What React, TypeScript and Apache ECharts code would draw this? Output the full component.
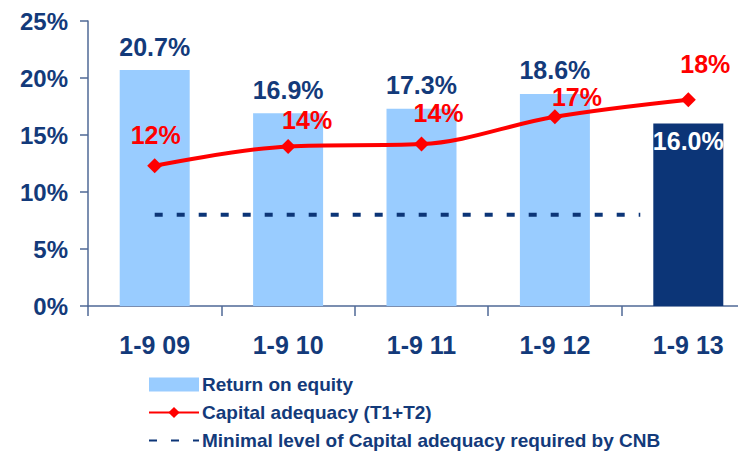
import React, { useEffect, useRef } from "react";
import * as echarts from "echarts";

const categories = ["1-9 09", "1-9 10", "1-9 11", "1-9 12", "1-9 13"];
const returnOnEquity = [20.7, 16.9, 17.3, 18.6, 16.0];
const capitalAdequacy = [12.3, 14.0, 14.2, 16.6, 18.1];
const capitalAdequacyLabels = ["12%", "14%", "14%", "17%", "18%"];
const minimalLevel = [[0.5, 8], [4.14, 8]];
const yTicks = { min: 0, max: 25, interval: 5 };
const seriesNames = [
  "Return on equity",
  "Capital adequacy (T1+T2)",
  "Minimal level of Capital adequacy required by CNB",
];

const NAVY = "#133a7a";
const DARK_BAR = "#0c3577";
const LIGHT_BAR = "#99ccff";
const RED = "#ff0000";
const AXIS = "#4f6896";
const FONT = "'Liberation Sans', Arial, sans-serif";

const lineLabelOffsets = [
  [1, -11],
  [19, -6],
  [17, -11],
  [22, 0],
  [17, -16],
];

export default function App() {
  const ref = useRef<HTMLDivElement>(null);
  useEffect(() => {
    if (!ref.current) return;
    const chart = echarts.init(ref.current, null, { renderer: "svg" });
    chart.setOption({
      animation: false,
      textStyle: { fontFamily: FONT },
      grid: { left: 88, top: 21, width: 667, height: 285, containLabel: false },
      xAxis: [
        {
          type: "category",
          data: categories,
          boundaryGap: true,
          axisLine: { lineStyle: { color: AXIS, width: 1.5 } },
          axisTick: { show: true, length: 10, alignWithLabel: false, lineStyle: { color: AXIS, width: 1.5 } },
          axisLabel: {
            color: NAVY,
            fontSize: 25,
            fontWeight: "bold",
            fontFamily: FONT,
            margin: 26,
          },
        },
        { type: "value", min: 0, max: 5, show: false },
      ],
      yAxis: {
        type: "value",
        min: yTicks.min,
        max: yTicks.max,
        interval: yTicks.interval,
        splitLine: { show: false },
        axisLine: { show: true, lineStyle: { color: AXIS, width: 1.5 } },
        axisTick: { show: true, length: 8, lineStyle: { color: AXIS, width: 1.5 } },
        axisLabel: {
          formatter: "{value}%",
          color: NAVY,
          fontSize: 24,
          fontWeight: "bold",
          fontFamily: FONT,
          margin: 20,
        },
      },
      legend: {
        orient: "vertical",
        left: 143,
        top: 370,
        height: 100,
        itemWidth: 50,
        itemHeight: 14,
        itemGap: 9,
        textStyle: { color: NAVY, fontSize: 19, fontWeight: "bold", fontFamily: FONT, padding: [0, 0, 0, -2] },
        data: [
          { name: seriesNames[0], icon: "rect" },
          { name: seriesNames[1] },
          { name: seriesNames[2], itemStyle: { color: "rgba(0,0,0,0)", borderWidth: 0 } },
        ],
      },
      series: [
        {
          name: seriesNames[0],
          type: "bar",
          barWidth: 70,
          itemStyle: { color: LIGHT_BAR },
          data: returnOnEquity.map((v, i) =>
            i === returnOnEquity.length - 1
              ? {
                  value: v,
                  itemStyle: { color: DARK_BAR },
                  label: { position: "insideTop", distance: 5, color: "#ffffff" },
                }
              : v
          ),
          label: {
            show: true,
            position: "top",
            distance: 11,
            formatter: (p: any) => p.value.toFixed(1) + "%",
            color: NAVY,
            fontSize: 25,
            fontWeight: "bold",
            fontFamily: FONT,
          },
        },
        {
          name: seriesNames[1],
          type: "line",
          smooth: 0.35,
          symbol: "diamond",
          symbolSize: 15,
          lineStyle: { color: RED, width: 4 },
          itemStyle: { color: RED },
          data: capitalAdequacy.map((v, i) => ({
            value: v,
            label: {
              offset: lineLabelOffsets[i],
            },
          })),
          label: {
            show: true,
            position: "top",
            distance: 0,
            formatter: (p: any) => capitalAdequacyLabels[p.dataIndex],
            color: RED,
            fontSize: 25,
            fontWeight: "bold",
            fontFamily: FONT,
          },
          z: 5,
        },
        {
          name: seriesNames[2],
          type: "line",
          xAxisIndex: 1,
          symbol: "none",
          lineStyle: { color: DARK_BAR, width: 4, type: [8, 14] },
          itemStyle: { color: DARK_BAR },
          data: minimalLevel,
          z: 3,
        },
      ],
    });
    return () => chart.dispose();
  }, []);
  return (
    <div style={{ width: 738, height: 454, position: "absolute", left: 0, top: 0, overflow: "hidden" }}>
      <div ref={ref} style={{ width: 770, height: 480 }} />
    </div>
  );
}
